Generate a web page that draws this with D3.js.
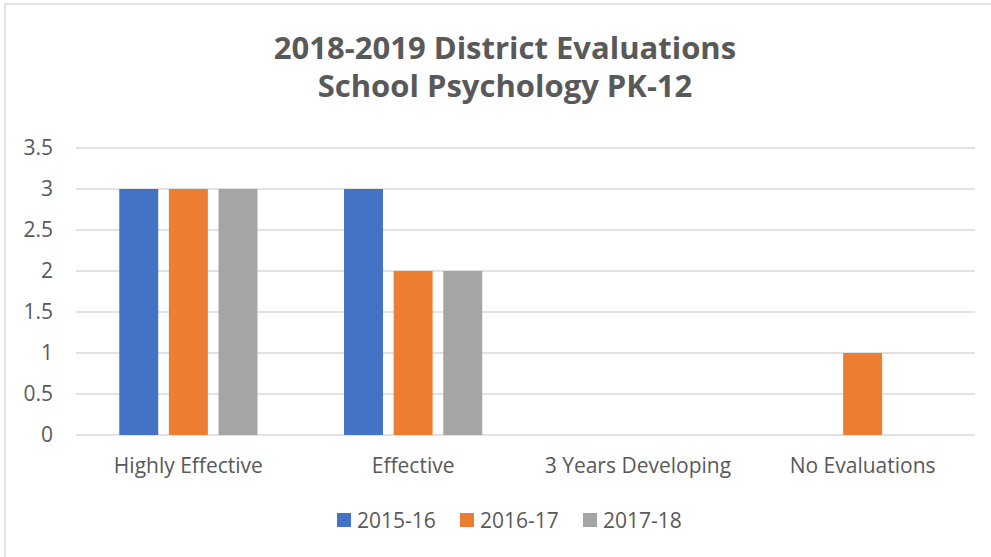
<!DOCTYPE html>
<html>
<head>
<meta charset="utf-8">
<script src="https://cdn.jsdelivr.net/npm/d3@7"></script>
<style>
  body { margin: 0; background: #fff; }
  svg { display: block; font-family: "Open Sans", sans-serif; }
</style>
</head>
<body>
<div id="chart"></div>
<script>
const categories = ['Highly Effective', 'Effective', '3 Years Developing', 'No Evaluations'];
const seriesNames = ['2015-16', '2016-17', '2017-18'];
const seriesColors = ['#4472C4', '#ED7D31', '#A5A5A5'];
const values2015 = [3, 3, 0, 0];
const values2016 = [3, 2, 0, 1];
const values2017 = [3, 2, 0, 0];
const yTicks = [0, 0.5, 1, 1.5, 2, 2.5, 3, 3.5];
const titleLines = ['2018-2019 District Evaluations', 'School Psychology PK-12'];

const seriesValues = [values2015, values2016, values2017];

const width = 991, height = 557;
const margin = {top: 148, right: 16, bottom: 122, left: 76};
const innerW = width - margin.left - margin.right;
const innerH = height - margin.top - margin.bottom;

const svg = d3.select('#chart').append('svg')
  .attr('width', width)
  .attr('height', height);

// chart frame
svg.append('rect')
  .attr('x', 5).attr('y', 4)
  .attr('width', 1010).attr('height', 560)
  .attr('fill', 'none')
  .attr('stroke', '#d9d9d9')
  .attr('stroke-width', 1.5);

// title, one text per line
svg.selectAll('.title')
  .data(titleLines)
  .enter().append('text')
  .attr('class', 'title')
  .attr('text-anchor', 'middle')
  .attr('fill', '#595959')
  .style('font-weight', 'bold')
  .style('font-size', '31px')
  .attr('x', 505)
  .attr('y', (d, i) => 59 + i * 38)
  .text(d => d);

const g = svg.append('g')
  .attr('transform', 'translate(' + margin.left + ',' + margin.top + ')');

const x0 = d3.scaleBand().domain(categories).range([0, innerW]);
const x1 = d3.scaleBand().domain(seriesNames).range([0, x0.bandwidth()])
  .paddingInner(0.215).paddingOuter(0.872);
const y = d3.scaleLinear().domain([0, 3.5]).range([innerH, 0]);

// gridlines
g.append('g')
  .attr('class', 'grid')
  .selectAll('line')
  .data(yTicks)
  .enter().append('line')
  .attr('x1', 0).attr('x2', innerW)
  .attr('y1', d => y(d)).attr('y2', d => y(d))
  .attr('stroke', '#d9d9d9')
  .attr('stroke-width', 1.5);

// y axis labels
const yAxis = d3.axisLeft(y).tickValues(yTicks).tickSize(0).tickPadding(23)
  .tickFormat(d => String(d));
g.append('g')
  .call(yAxis)
  .call(s => s.select('.domain').remove())
  .call(s => s.selectAll('text')
    .attr('fill', '#595959')
    .style('font-size', '21px')
    .style('font-family', '"Open Sans", sans-serif'));

// bars
const groups = g.selectAll('.group')
  .data(categories)
  .enter().append('g')
  .attr('class', 'group')
  .attr('transform', d => 'translate(' + x0(d) + ',0)');

groups.selectAll('rect')
  .data((c, ci) => seriesNames.map((s, si) => ({series: s, idx: si, value: seriesValues[si][ci]})))
  .enter().append('rect')
  .filter(d => d.value > 0)
  .attr('x', d => x1(d.series))
  .attr('width', x1.bandwidth())
  .attr('y', d => y(d.value))
  .attr('height', d => y(0) - y(d.value))
  .attr('fill', d => seriesColors[d.idx]);

// x axis labels
const xAxis = d3.axisBottom(x0).tickSize(0).tickPadding(23);
g.append('g')
  .attr('transform', 'translate(0,' + innerH + ')')
  .call(xAxis)
  .call(s => s.select('.domain').remove())
  .call(s => s.selectAll('text')
    .attr('fill', '#595959')
    .style('font-size', '21px')
    .style('font-family', '"Open Sans", sans-serif'));

// legend
const legend = svg.append('g')
  .attr('transform', 'translate(337,513)');
const items = legend.selectAll('.item')
  .data(seriesNames)
  .enter().append('g')
  .attr('class', 'item')
  .attr('transform', (d, i) => 'translate(' + (i * 123) + ',0)');
items.append('rect')
  .attr('width', 14).attr('height', 14)
  .attr('fill', (d, i) => seriesColors[i]);
items.append('text')
  .attr('x', 20).attr('y', 14.5)
  .attr('fill', '#595959')
  .style('font-size', '21px')
  .text(d => d);
</script>
</body>
</html>
